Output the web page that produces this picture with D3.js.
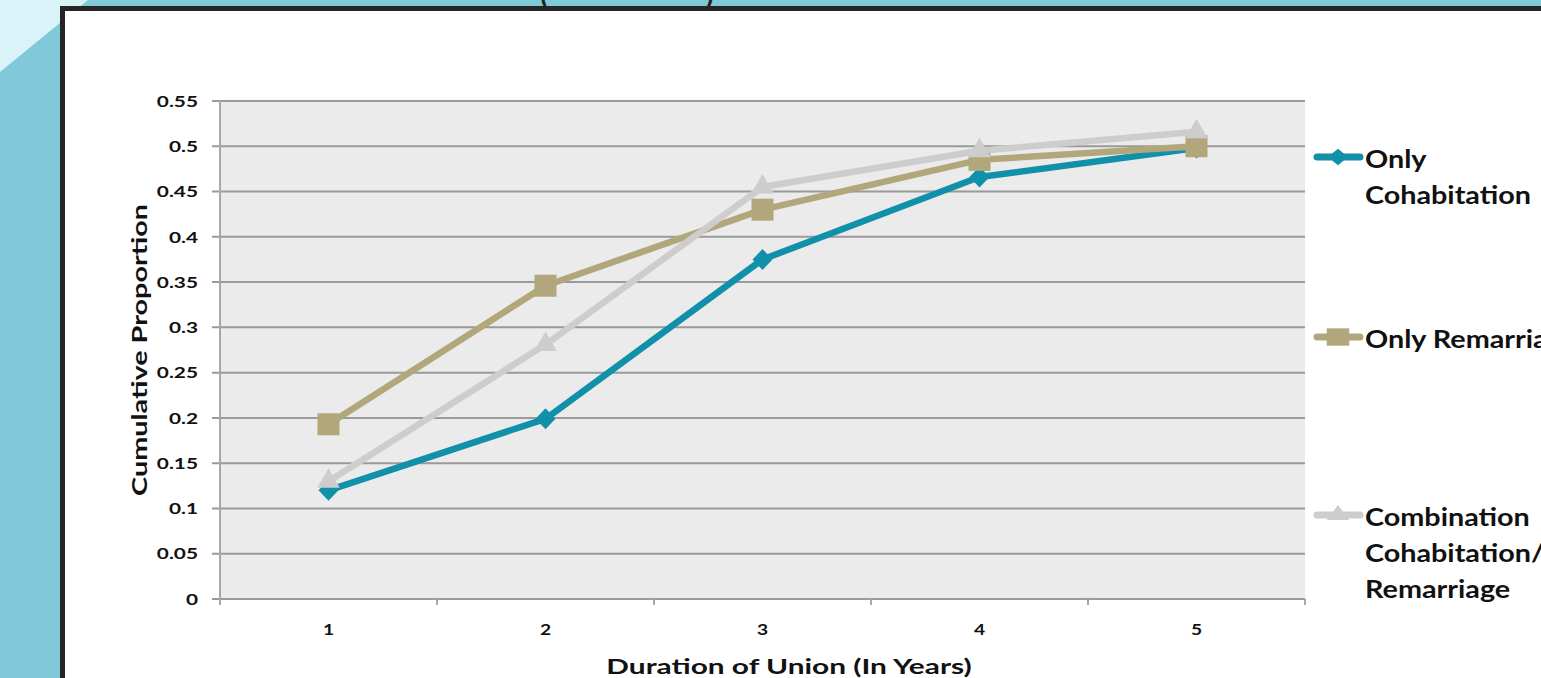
<!DOCTYPE html>
<html><head><meta charset="utf-8">
<script src="https://cdn.jsdelivr.net/npm/d3@7"></script>
<style>html,body{margin:0;padding:0;overflow:hidden;background:#80C9D8;}svg{display:block;font-family:Lato,"Open Sans",sans-serif;}</style>
</head><body>
<svg id="c" width="1541" height="678"></svg>
<script>
const categories = ["1","2","3","4","5"];
const yTicks = [0,0.05,0.1,0.15,0.2,0.25,0.3,0.35,0.4,0.45,0.5,0.55];
const yTickLabels = ["0","0.05","0.1","0.15","0.2","0.25","0.3","0.35","0.4","0.45","0.5","0.55"];
const onlyCohabitation = [0.120,0.199,0.375,0.466,0.498];
const onlyRemarriage = [0.193,0.346,0.430,0.485,0.500];
const combination = [0.130,0.281,0.455,0.495,0.516];
const seriesNames = [["Only","Cohabitation"],["Only Remarriage"],["Combination","Cohabitation/","Remarriage"]];

// horizontally stretch text like the reference's widened rendering
function stretch(sel, k){
  sel.each(function(){
    const l = this.getComputedTextLength();
    this.setAttribute("textLength", l*k);
    this.setAttribute("lengthAdjust","spacingAndGlyphs");
  });
}

const diamond = {draw(ctx, size){ const r = Math.sqrt(size)/2; ctx.moveTo(0,-r*1.05); ctx.lineTo(r,0); ctx.lineTo(0,r*1.05); ctx.lineTo(-r,0); ctx.closePath(); }};

const series = [
  {name: seriesNames[0], values: onlyCohabitation, color:"#1190AA", shape: diamond, size: 400, lsize: 240, legendY:157},
  {name: seriesNames[1], values: onlyRemarriage, color:"#B1A77B", shape: d3.symbolSquare, size: 484, lsize: 300, legendY:337},
  {name: seriesNames[2], values: combination, color:"#CDCDCD", shape: d3.symbolTriangle, size: 220, lsize: 130, legendY:515}
];

const svg = d3.select("#c");
// background
svg.append("rect").attr("width",1541).attr("height",678).attr("fill","#80C9D8");
svg.append("path").attr("d","M0,0 L88,0 L0,72 Z").attr("fill","#DAF3F9");
// cut-off title (only its bottom is visible above the frame)
svg.append("text").attr("x",540).attr("y",4).attr("font-size",28).attr("font-weight","bold").attr("fill","#222").text("(");
svg.append("text").attr("x",706).attr("y",4).attr("font-size",28).attr("font-weight","bold").attr("fill","#222").text(")");
// frame
svg.append("rect").attr("x",62.5).attr("y",8.5).attr("width",1600).attr("height",700).attr("fill","#fff").attr("stroke","#252525").attr("stroke-width",5);

const x = d3.scaleBand().domain(categories).range([220,1305]);
const y = d3.scaleLinear().domain([0,0.55]).range([599,101]);

const g = svg.append("g");
g.append("rect").attr("x",220).attr("y",y(0.55)).attr("width",1085).attr("height",y(0)-y(0.55)).attr("fill","#EBEBEB");

// gridlines
g.append("g").selectAll("line").data(yTicks).join("line")
  .attr("x1",212).attr("x2",1305).attr("y1",d=>y(d)).attr("y2",d=>y(d))
  .attr("stroke","#9A9A9A").attr("stroke-width",2);
// y axis line
g.append("line").attr("x1",220).attr("x2",220).attr("y1",y(0.55)-1).attr("y2",y(0)+6).attr("stroke","#A8A8A8").attr("stroke-width",2);
// x axis ticks at category boundaries
const bounds = categories.map(c=>x(c)+x.bandwidth());
g.append("g").selectAll("line").data(bounds).join("line")
  .attr("x1",d=>d).attr("x2",d=>d).attr("y1",y(0)).attr("y2",y(0)+6).attr("stroke","#A8A8A8").attr("stroke-width",2);

// y tick labels
g.append("g").selectAll("text").data(yTicks).join("text")
  .attr("x",198).attr("y",d=>y(d)).attr("dy","0.36em").attr("text-anchor","end")
  .attr("font-size",16).attr("font-weight","bold").attr("fill","#111").text((d,i)=>yTickLabels[i])
  .call(stretch,1.3);
// x tick labels
g.append("g").selectAll("text").data(categories).join("text")
  .attr("x",d=>x(d)+x.bandwidth()/2).attr("y",635).attr("text-anchor","middle")
  .attr("font-size",16).attr("font-weight","bold").attr("fill","#111").text(d=>d)
  .call(stretch,1.2);

// axis titles
g.append("text").attr("x",789).attr("y",674).attr("text-anchor","middle").attr("font-size",21).attr("font-weight","bold").attr("fill","#111").text("Duration of Union (In Years)").call(stretch,1.42);
g.append("text").attr("transform","translate(147,350) rotate(-90)").attr("text-anchor","middle").attr("font-size",21).attr("font-weight","bold").attr("fill","#111").text("Cumulative Proportion").call(stretch,1.37);

// lines
const line = d3.line().x((d,i)=>x(categories[i])+x.bandwidth()/2).y(d=>y(d));
series.forEach(s=>{
  g.append("path").datum(s.values).attr("d",line).attr("fill","none").attr("stroke",s.color).attr("stroke-width",6.5).attr("stroke-linejoin","round");
  g.append("g").selectAll("path").data(s.values).join("path")
    .attr("transform",(d,i)=>`translate(${x(categories[i])+x.bandwidth()/2},${y(d)})`)
    .attr("d",d3.symbol().type(s.shape).size(s.size)).attr("fill",s.color);
});

// legend
series.forEach(s=>{
  const lg = svg.append("g");
  lg.append("line").attr("x1",1317).attr("x2",1360).attr("y1",s.legendY).attr("y2",s.legendY)
    .attr("stroke",s.color).attr("stroke-width",7).attr("stroke-linecap","round");
  lg.append("path").attr("transform",`translate(1338,${s.legendY}) scale(1.3,1)`).attr("d",d3.symbol().type(s.shape).size(s.lsize)).attr("fill",s.color);
  s.name.forEach((t,i)=>{
    lg.append("text").attr("x",1365).attr("y",s.legendY+11+i*36).attr("font-size",25).attr("font-weight","bold").attr("fill","#111").text(t).call(stretch,1.15);
  });
});
</script>
</body></html>
